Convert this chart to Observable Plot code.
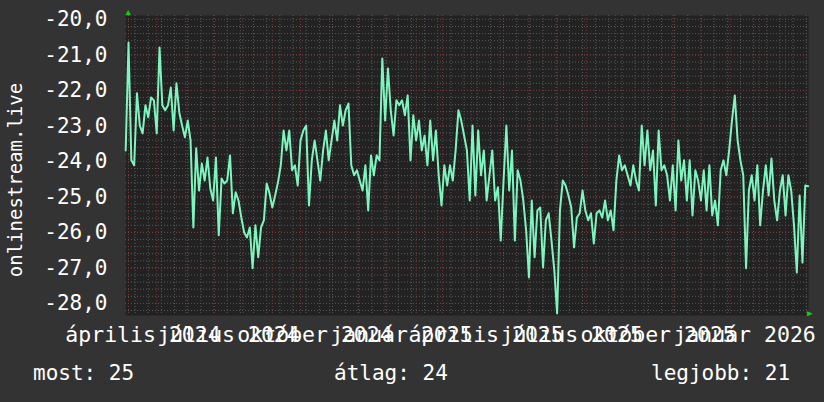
<!DOCTYPE html>
<html><head><meta charset="utf-8">
<script src="https://cdn.jsdelivr.net/npm/d3@7"></script>
<script src="https://cdn.jsdelivr.net/npm/@observablehq/plot@0.6"></script>
<style>
html,body{margin:0;padding:0;background:#333333;}
#wrap{position:relative;width:824px;height:402px;overflow:hidden;font-family:"DejaVu Sans Mono",monospace;color:#ffffff;}
#chart svg{display:block;}
#legend{position:absolute;left:0;top:350px;width:824px;height:52px;font-size:21px;}
#legend span{position:absolute;top:13px;line-height:21px;white-space:pre;}
</style></head><body>
<div id="wrap"><div id="chart"></div><div id="legend"></div></div>
<script>
// ---- data ----
const seriesName = "onlinestream.live";
const firstDay = "2024-03-29";   // first sample
const stepDays = 3;              // sampling step of the series
const values = [
-23.69,-20.65,-23.97,-24.11,-22.08,-22.99,-23.21,-22.42,-22.76,-22.20,
-22.28,-23.21,-20.79,-22.42,-22.56,-22.42,-21.92,-23.13,-21.80,-22.62,
-22.99,-23.32,-22.85,-23.41,-25.86,-23.63,-24.82,-24.06,-24.54,-23.89,
-24.76,-25.10,-23.89,-26.08,-24.48,-24.62,-24.54,-23.83,-25.46,-24.87,
-25.10,-25.58,-26.00,-26.14,-25.86,-27.01,-25.80,-26.70,-25.86,-25.66,
-24.62,-24.90,-25.30,-24.96,-24.59,-24.11,-23.13,-23.69,-23.13,-24.25,
-24.11,-24.68,-23.41,-23.13,-22.99,-25.24,-23.97,-23.41,-23.97,-24.54,
-23.69,-23.13,-23.97,-23.41,-22.85,-23.41,-22.42,-22.99,-22.56,-22.37,
-24.11,-24.39,-24.25,-24.54,-24.82,-24.11,-25.38,-23.83,-24.39,-23.83,
-23.97,-21.10,-22.85,-21.38,-22.56,-23.27,-22.28,-22.42,-22.28,-22.70,
-22.14,-23.97,-22.70,-23.41,-22.85,-23.69,-23.27,-24.11,-22.85,-23.97,
-23.13,-24.39,-25.24,-24.11,-24.68,-24.11,-24.54,-23.69,-22.56,-22.85,
-23.27,-23.69,-25.10,-22.99,-24.96,-23.13,-24.39,-23.69,-25.10,-24.39,
-23.69,-25.10,-24.73,-26.23,-24.54,-22.99,-24.82,-23.69,-26.23,-24.25,
-24.54,-25.10,-25.94,-27.27,-25.10,-26.70,-25.38,-25.30,-26.99,-25.66,
-25.46,-26.23,-27.07,-28.28,-25.38,-24.54,-24.68,-24.96,-25.30,-26.42,
-25.58,-25.46,-24.82,-25.38,-25.66,-25.46,-26.31,-25.46,-25.38,-25.58,
-25.10,-25.66,-25.38,-25.94,-24.54,-23.83,-24.25,-24.11,-24.39,-24.68,
-24.11,-24.54,-24.82,-22.99,-24.11,-23.13,-24.25,-23.69,-25.24,-23.13,
-24.25,-24.11,-24.39,-25.10,-24.11,-25.38,-23.41,-24.54,-23.97,-25.10,
-23.97,-25.52,-24.25,-24.54,-25.10,-24.25,-25.38,-24.11,-25.52,-25.10,
-25.80,-24.25,-23.97,-24.39,-23.69,-22.85,-22.14,-23.41,-23.97,-24.39,
-27.01,-24.82,-24.39,-25.10,-24.11,-25.80,-24.82,-24.11,-24.96,-23.92,
-25.10,-25.66,-24.82,-24.39,-25.52,-24.39,-24.82,-25.80,-27.13,-24.96,
-26.85,-24.68,-24.70
];
const xTickDates = ["2024-04-01","2024-07-01","2024-10-01","2025-01-01","2025-04-01","2025-07-01","2025-10-01","2026-01-01"];
const xTickLabels = ["április 2024","július 2024","október 2024","január 2025","április 2025","július 2025","október 2025","január 2026"];
const yTicks = [-28,-27,-26,-25,-24,-23,-22,-21,-20];
const legendLabels = ["most","átlag","legjobb"];
const legendValues = [25,24,21];

// ---- build ----
const start = new Date(firstDay + "T00:00:00Z");
const data = values.map((v, i) => ({date: d3.utcDay.offset(start, i * stepDays), value: v}));
const xStart = new Date(Date.UTC(2024, 2, 28, 19));
const xEnd = new Date(Date.UTC(2026, 2, 25, 10));
const tickDates = xTickDates.map(s => new Date(s + "T00:00:00Z"));
const labelOf = new Map(tickDates.map((d, i) => [+d, xTickLabels[i]]));
const monthLines = d3.utcMonth.range(xStart, xEnd);
const minorX = d3.utcMonday.range(new Date(Date.UTC(2024, 3, 8)), xEnd, 2);
const minorY = d3.range(-28.2, -19.85, 0.2).map(v => +v.toFixed(1));

const gridMinor = "#5a5a5a", gridMajor = "#7e3535", lineColor = "#7df5bf";

const chart = Plot.plot({
  width: 824, height: 350,
  marginLeft: 125, marginRight: 16, marginTop: 15, marginBottom: 35,
  style: {background: "transparent", color: "#ffffff", fontFamily: "DejaVu Sans Mono, monospace", fontSize: "21px"},
  x: {type: "utc", domain: [xStart, xEnd]},
  y: {domain: [-28.34, -19.89]},
  marks: [
    Plot.frame({fill: "#222222", stroke: null}),
    Plot.ruleY(minorY, {stroke: gridMinor, strokeDasharray: "1,2"}),
    Plot.ruleX(minorX, {stroke: gridMinor, strokeDasharray: "1,2"}),
    Plot.ruleY(yTicks, {stroke: gridMajor, strokeDasharray: "1,2"}),
    Plot.ruleX(monthLines, {stroke: gridMajor, strokeDasharray: "1,2"}),
    Plot.line(data, {x: "date", y: "value", stroke: lineColor, strokeWidth: 2}),
    Plot.axisX(tickDates, {tickSize: 0, tickPadding: 11, dx: 14.5, tickFormat: d => labelOf.get(+d), fill: "#ffffff", fontSize: 21.5, label: null}),
    Plot.axisY(yTicks, {tickSize: 0, tickPadding: 18, tickFormat: d => d.toFixed(1).replace(".", ","), fill: "#ffffff", fontSize: 21, label: null}),
    Plot.text(["▲"], {frameAnchor: "top-left", text: d => d, dy: -7, fill: "#10d010", fontSize: 9}),
    Plot.text(["▶"], {frameAnchor: "bottom-right", text: d => d, dx: 4, fill: "#10d010", fontSize: 9})
  ]
});
document.getElementById("chart").appendChild(chart);

// y-axis title (rotated)
d3.select(chart).append("text")
  .attr("transform", "translate(15,180) rotate(-90)")
  .attr("text-anchor", "middle")
  .attr("dominant-baseline", "central")
  .attr("fill", "#ffffff")
  .style("font-family", "DejaVu Sans Mono, monospace")
  .style("font-size", "19px")
  .text(seriesName);

// legend below
const lx = [33, 334, 651];
const leg = document.getElementById("legend");
legendLabels.forEach((l, i) => {
  const s = document.createElement("span");
  s.style.left = lx[i] + "px";
  s.textContent = l + ": " + legendValues[i];
  leg.appendChild(s);
});
</script>
</body></html>
